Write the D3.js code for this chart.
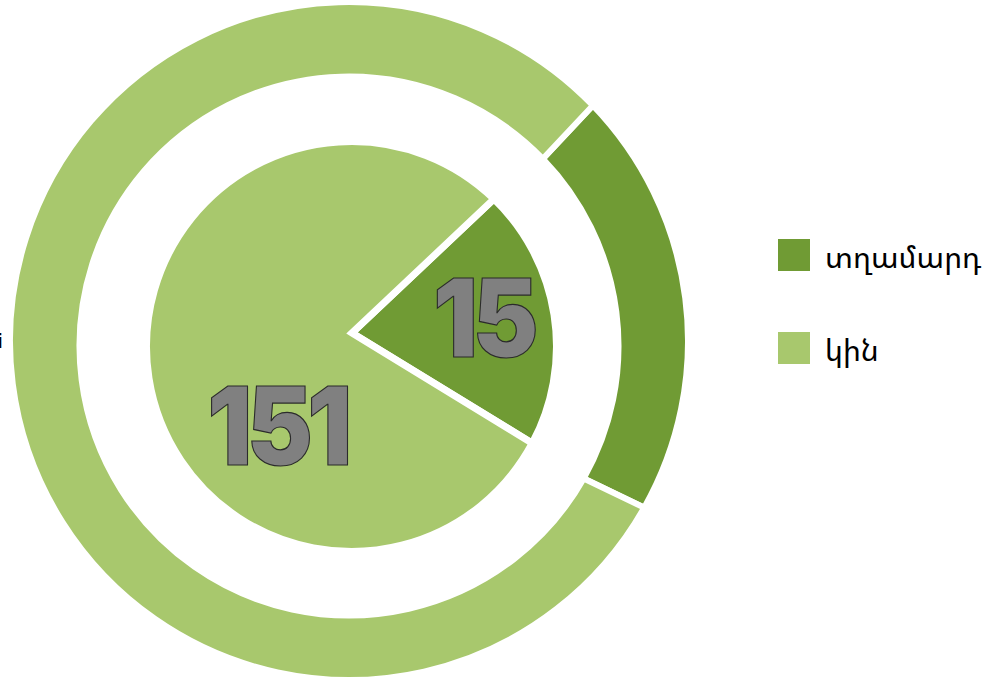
<!DOCTYPE html>
<html><head><meta charset="utf-8">
<script src="https://cdn.jsdelivr.net/npm/d3@7"></script>
<style>html,body{margin:0;padding:0;background:#fff;}svg{display:block;}</style>
</head><body>
<svg id="chart" width="990" height="679"></svg>
<script>
// ---- data ----
const categories = ["տղամարդ", "կին"];
const outerShares = [20.4, 79.6];   // outer ring, % of circle
const innerShares = [20.6, 79.4];   // inner pie, % of circle
const innerLabels = ["15", "151"];
const clippedLabel = ["i"];

// ---- style / layout ----
const colors = d3.scaleOrdinal().domain(categories).range(["#709b34", "#a8c86d"]);
const svg = d3.select("#chart");
const deg = Math.PI / 180;

// outer ring
const ringOuterC = [349, 341], ringOuterR = 339;
const ringInnerC = [349, 346], ringInnerR = 269.5;
const outerPie = d3.pie().sort(null).value(d => d).startAngle(46 * deg).endAngle(406 * deg);
const outerArcs = outerPie(outerShares);

function ringPath(a) {
  const p = d3.path();
  const s0 = a.startAngle - Math.PI / 2, s1 = a.endAngle - Math.PI / 2;
  p.moveTo(ringOuterC[0] + ringOuterR * Math.cos(s0), ringOuterC[1] + ringOuterR * Math.sin(s0));
  p.arc(ringOuterC[0], ringOuterC[1], ringOuterR, s0, s1, false);
  p.lineTo(ringInnerC[0] + ringInnerR * Math.cos(s1), ringInnerC[1] + ringInnerR * Math.sin(s1));
  p.arc(ringInnerC[0], ringInnerC[1], ringInnerR, s1, s0, true);
  p.closePath();
  return p.toString();
}

svg.append("g").selectAll("path").data(outerArcs).join("path")
  .attr("d", ringPath)
  .attr("fill", (d, i) => colors(categories[i]))
  .attr("stroke", "#fff").attr("stroke-width", 6).attr("stroke-linejoin", "miter");

// inner pie
const pieC = [351.5, 346.5], pieR = 205, pieVertex = [352, 333];
const innerPie = d3.pie().sort(null).value(d => d).startAngle(44 * deg).endAngle(404 * deg);
const innerArcs = innerPie(innerShares);

function slicePath(a) {
  const p = d3.path();
  const s0 = a.startAngle - Math.PI / 2, s1 = a.endAngle - Math.PI / 2;
  p.moveTo(pieVertex[0], pieVertex[1]);
  p.lineTo(pieC[0] + pieR * Math.cos(s0), pieC[1] + pieR * Math.sin(s0));
  p.arc(pieC[0], pieC[1], pieR, s0, s1, false);
  p.closePath();
  return p.toString();
}

svg.append("g").selectAll("path").data(innerArcs).join("path")
  .attr("d", slicePath)
  .attr("fill", (d, i) => colors(categories[i]))
  .attr("stroke", "#fff").attr("stroke-width", 7).attr("stroke-linejoin", "miter");

// big labels
const labelPos = [[483, 357], [277, 465]];
svg.append("g").selectAll("text").data(innerLabels).join("text")
  .attr("transform", (d, i) => `translate(${labelPos[i][0]},${labelPos[i][1]}) scale(0.92,1)`)
  .attr("text-anchor", "middle")
  .attr("font-family", "Inter, Roboto, sans-serif")
  .attr("font-weight", 900)
  .attr("font-size", 108)
  .attr("letter-spacing", -6)
  .attr("fill", "#808080")
  .attr("stroke", "#2b2b2b").attr("stroke-width", 1.2)
  .text(d => d);

// legend
const legend = svg.append("g").selectAll("g").data(categories).join("g")
  .attr("transform", (d, i) => `translate(778,${239 + i * 93})`);
legend.append("rect").attr("width", 32).attr("height", 32).attr("fill", d => colors(d));
legend.append("text").attr("x", 47).attr("y", 29)
  .attr("font-family", "'Noto Sans Armenian', 'DejaVu Sans', sans-serif")
  .attr("font-size", 30).attr("fill", "#000")
  .text(d => d);

// clipped label at left edge (partly cut off in the reference as well)
svg.append("text").attr("x", 3).attr("y", 348).attr("text-anchor", "end")
  .attr("font-family", "'DejaVu Sans', sans-serif").attr("font-size", 20).attr("fill", "#000")
  .text(clippedLabel[0]);
</script>
</body></html>
